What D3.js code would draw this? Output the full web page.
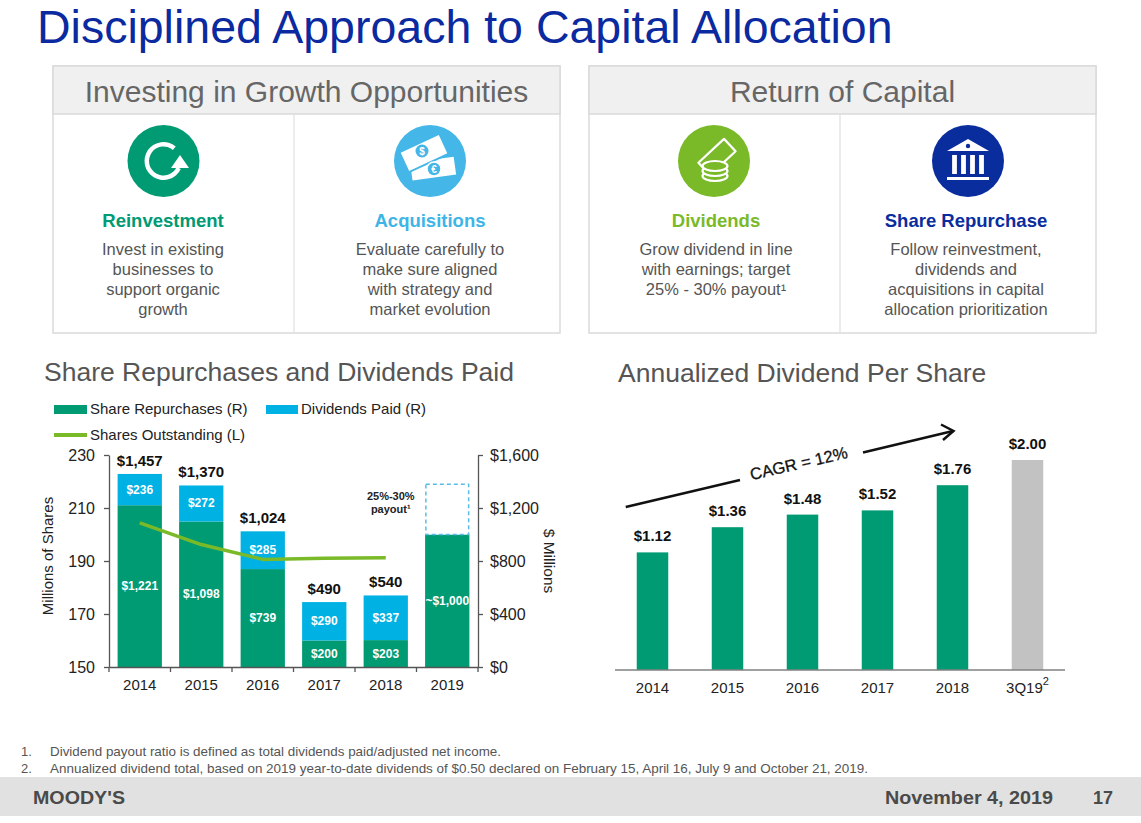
<!DOCTYPE html>
<html>
<head>
<meta charset="utf-8">
<script src="https://cdn.jsdelivr.net/npm/d3@7"></script>
<style>
  body { margin: 0; background: #fff; }
  svg { display: block; font-family: "Liberation Sans", Arial, sans-serif; }
</style>
</head>
<body>
<svg id="slide" width="1141" height="823"></svg>
<script>
// ---- data ----
const years = ['2014', '2015', '2016', '2017', '2018', '2019'];
const repurchases = [1221, 1098, 739, 200, 203, 1000];
const dividendsPaid = [236, 272, 285, 290, 337, 0];
const payoutTarget = [0, 0, 0, 0, 0, 380];          // dashed outline above 2019
const sharesOutstanding = [204.4, 196.2, 190.6, 191.0, 191.2];
const sharesTicks = [150, 170, 190, 210, 230];
const dollarTicks = [0, 400, 800, 1200, 1600];

const dpsPeriods = ['2014', '2015', '2016', '2017', '2018', '3Q19'];
const dps = [1.12, 1.36, 1.48, 1.52, 1.76, 2.00];

const pillarTitles = ['Reinvestment', 'Acquisitions', 'Dividends', 'Share Repurchase'];
const pillarText = [
  ['Invest in existing', 'businesses to', 'support organic', 'growth'],
  ['Evaluate carefully to', 'make sure aligned', 'with strategy and', 'market evolution'],
  ['Grow dividend in line', 'with earnings; target', '25% - 30% payout\u00B9'],
  ['Follow reinvestment,', 'dividends and', 'acquisitions in capital', 'allocation prioritization']
];
const footnotes = [
  'Dividend payout ratio is defined as total dividends paid/adjusted net income.',
  'Annualized dividend total, based on 2019 year-to-date dividends of $0.50 declared on February 15, April 16, July 9 and October 21, 2019.'
];

// ---- colours ----
const GREEN = '#009a73';
const SKY = '#00b2e3';
const ICON_SKY = '#45b6e8';
const LIME = '#7aba28';
const NAVY = '#0a2d9e';
const GREY_TXT = '#555';

const svg = d3.select('#slide');

// ---- slide title ----
svg.append('text')
  .attr('x', 37).attr('y', 43)
  .attr('font-size', 46.5).attr('fill', '#0b2aa0')
  .text('Disciplined Approach to Capital Allocation');

// ---- the two framed boxes ----
const boxes = [
  { x: 53, w: 507, divider: 294, title: 'Investing in Growth Opportunities' },
  { x: 589, w: 507, divider: 840, title: 'Return of Capital' }
];
boxes.forEach(b => {
  const g = svg.append('g');
  g.append('rect').attr('x', b.x).attr('y', 66).attr('width', b.w).attr('height', 267)
    .attr('fill', '#fff').attr('stroke', '#dadada').attr('stroke-width', 1.5);
  g.append('rect').attr('x', b.x).attr('y', 66).attr('width', b.w).attr('height', 48)
    .attr('fill', '#f0f0f0').attr('stroke', '#dadada').attr('stroke-width', 1.5);
  g.append('line').attr('x1', b.divider).attr('x2', b.divider).attr('y1', 114).attr('y2', 333)
    .attr('stroke', '#e0e0e0').attr('stroke-width', 1.2);
  g.append('text').attr('x', b.x + b.w / 2).attr('y', 102)
    .attr('text-anchor', 'middle').attr('font-size', 30).attr('fill', '#666')
    .text(b.title);
});

// ---- pillar icons + texts ----
const pillarX = [163, 430, 716, 966];
const iconX = [163.5, 430, 714, 968];
const pillarColors = [GREEN, ICON_SKY, LIME, NAVY];
const titleColors = [GREEN, '#3db5e6', LIME, NAVY];

pillarTitles.forEach((t, i) => {
  const g = svg.append('g');
  g.append('circle').attr('cx', iconX[i]).attr('cy', 161).attr('r', 36).attr('fill', pillarColors[i]);
  g.append('text').attr('x', pillarX[i]).attr('y', 227)
    .attr('text-anchor', 'middle').attr('font-size', 18.5).attr('font-weight', 'bold')
    .attr('fill', titleColors[i]).text(t);
  g.selectAll('text.desc').data(pillarText[i]).join('text')
    .attr('class', 'desc')
    .attr('x', pillarX[i]).attr('y', (d, j) => 255 + j * 20)
    .attr('text-anchor', 'middle').attr('font-size', 16.5).attr('fill', GREY_TXT)
    .text(d => d);
});

// reinvestment: circular arrow
(function () {
  const g = svg.append('g').attr('transform', `translate(${iconX[0]},161)`);
  const arc = d3.arc().innerRadius(14.5).outerRadius(19)
    .startAngle(2.0).endAngle(0.7 + 2 * Math.PI);
  g.append('path').attr('d', arc()).attr('fill', '#fff');
  g.append('path').attr('d', 'M16.5,-6 L7.5,7 L25.5,7 Z').attr('fill', '#fff');
})();

// acquisitions: two bank notes
(function () {
  const g = svg.append('g').attr('transform', `translate(${iconX[1]},161)`);
  g.append('rect').attr('x', -20).attr('y', -1).attr('width', 44).attr('height', 18)
    .attr('transform', 'rotate(-8)').attr('fill', '#fff');
  g.append('rect').attr('x', -28).attr('y', -19).attr('width', 44).attr('height', 22)
    .attr('transform', 'rotate(-25 -6 -8)').attr('fill', '#fff')
    .attr('stroke', ICON_SKY).attr('stroke-width', 2);
  g.append('circle').attr('cx', -8).attr('cy', -10).attr('r', 6.5).attr('fill', ICON_SKY);
  g.append('text').attr('x', -8).attr('y', -6.5).attr('text-anchor', 'middle')
    .attr('font-size', 10).attr('font-weight', 'bold').attr('fill', '#fff').text('$');
  g.append('circle').attr('cx', 4).attr('cy', 8).attr('r', 7).attr('fill', ICON_SKY)
    .attr('stroke', '#fff').attr('stroke-width', 1.5);
  g.append('text').attr('x', 4).attr('y', 11.5).attr('text-anchor', 'middle')
    .attr('font-size', 10).attr('font-weight', 'bold').attr('fill', '#fff').text('\u20AC');
})();

// dividends: bill and coin stack
(function () {
  const g = svg.append('g').attr('transform', `translate(${iconX[2]},161)`);
  g.append('rect').attr('x', -14.5).attr('y', -12.5).attr('width', 35).attr('height', 17)
    .attr('transform', 'rotate(-43 3 -4)')
    .attr('fill', LIME).attr('stroke', '#fff').attr('stroke-width', 2.2).attr('stroke-linejoin', 'round');
  [15, 10, 5].forEach(cy => {
    g.append('ellipse').attr('cx', 1).attr('cy', cy).attr('rx', 12.5).attr('ry', 5)
      .attr('fill', LIME).attr('stroke', '#fff').attr('stroke-width', 2.2);
  });
})();

// share repurchase: bank building
(function () {
  const g = svg.append('g').attr('transform', `translate(${iconX[3]},161)`);
  g.append('path').attr('d', 'M-21,-10 L0,-22 L21,-10 Z').attr('fill', '#fff');
  g.append('circle').attr('cx', 0).attr('cy', -15).attr('r', 2.2).attr('fill', NAVY);
  [-13.5, -4.5, 4.5, 13.5].forEach(cx => {
    g.append('rect').attr('x', cx - 2.4).attr('y', -6).attr('width', 4.8).attr('height', 19).attr('fill', '#fff');
  });
  g.append('rect').attr('x', -21).attr('y', 16).attr('width', 42).attr('height', 3).attr('fill', '#fff');
})();

// ================= LEFT CHART =================
const left = svg.append('g');
left.append('text').attr('x', 44).attr('y', 381)
  .attr('font-size', 26.5).attr('fill', GREY_TXT).text('Share Repurchases and Dividends Paid');

// legend
const legend = left.append('g').attr('font-size', 15).attr('fill', '#222');
legend.append('rect').attr('x', 54).attr('y', 405).attr('width', 33).attr('height', 9).attr('fill', GREEN);
legend.append('text').attr('x', 90).attr('y', 414).text('Share Repurchases (R)');
legend.append('rect').attr('x', 266).attr('y', 405).attr('width', 32).attr('height', 9).attr('fill', SKY);
legend.append('text').attr('x', 301).attr('y', 414).text('Dividends Paid (R)');
legend.append('line').attr('x1', 54).attr('x2', 87).attr('y1', 435).attr('y2', 435)
  .attr('stroke', LIME).attr('stroke-width', 4);
legend.append('text').attr('x', 90).attr('y', 440).text('Shares Outstanding (L)');

const x = d3.scaleBand().domain(years).range([109, 478]).paddingInner(0.28).paddingOuter(0.14);
const yShares = d3.scaleLinear().domain([150, 230]).range([667, 455]);
const yMoney = d3.scaleLinear().domain([0, 1600]).range([667, 455]);
const money = d3.format('$,');

// stacked bars
left.selectAll('rect.rep').data(years).join('rect')
  .attr('class', 'rep')
  .attr('x', d => x(d)).attr('width', x.bandwidth())
  .attr('y', (d, i) => yMoney(repurchases[i]))
  .attr('height', (d, i) => yMoney(0) - yMoney(repurchases[i]))
  .attr('fill', GREEN);

left.selectAll('rect.div').data(years.filter((d, i) => dividendsPaid[i] > 0)).join('rect')
  .attr('class', 'div')
  .attr('x', d => x(d)).attr('width', x.bandwidth())
  .attr('y', d => { const i = years.indexOf(d); return yMoney(repurchases[i] + dividendsPaid[i]); })
  .attr('height', d => { const i = years.indexOf(d); return yMoney(repurchases[i]) - yMoney(repurchases[i] + dividendsPaid[i]); })
  .attr('fill', SKY);

left.selectAll('rect.target').data(years.filter((d, i) => payoutTarget[i] > 0)).join('rect')
  .attr('class', 'target')
  .attr('x', d => x(d) + 0.75).attr('width', x.bandwidth() - 1.5)
  .attr('y', d => { const i = years.indexOf(d); return yMoney(repurchases[i] + payoutTarget[i]); })
  .attr('height', d => { const i = years.indexOf(d); return yMoney(repurchases[i]) - yMoney(repurchases[i] + payoutTarget[i]); })
  .attr('fill', '#fff').attr('stroke', '#5bbde6').attr('stroke-width', 1.5).attr('stroke-dasharray', '4,3');

left.append('text')
  .attr('x', x('2018') + x.bandwidth() / 2 + 5).attr('y', 500)
  .attr('text-anchor', 'middle').attr('font-size', 11).attr('font-weight', 'bold').attr('fill', '#222')
  .selectAll('tspan').data(['25%-30%', 'payout\u00B9']).join('tspan')
  .attr('x', x('2018') + x.bandwidth() / 2 + 5).attr('dy', (d, i) => i ? 13 : 0).text(d => d);

// value labels
const cx = d => x(d) + x.bandwidth() / 2;
left.selectAll('text.total').data(years.filter((d, i) => dividendsPaid[i] > 0)).join('text')
  .attr('class', 'total')
  .attr('x', cx)
  .attr('y', d => { const i = years.indexOf(d); return yMoney(repurchases[i] + dividendsPaid[i]) - 8; })
  .attr('text-anchor', 'middle').attr('font-size', 15).attr('font-weight', 'bold').attr('fill', '#111')
  .text(d => { const i = years.indexOf(d); return money(repurchases[i] + dividendsPaid[i]); });

left.selectAll('text.repv').data(years).join('text')
  .attr('class', 'repv')
  .attr('x', cx)
  .attr('y', (d, i) => (yMoney(0) + yMoney(repurchases[i])) / 2 + 4)
  .attr('text-anchor', 'middle').attr('font-size', 12).attr('font-weight', 'bold').attr('fill', '#fff')
  .text((d, i) => (payoutTarget[i] > 0 ? '~' : '') + money(repurchases[i]));

left.selectAll('text.divv').data(years.filter((d, i) => dividendsPaid[i] > 0)).join('text')
  .attr('class', 'divv')
  .attr('x', cx)
  .attr('y', d => { const i = years.indexOf(d); return (yMoney(repurchases[i]) + yMoney(repurchases[i] + dividendsPaid[i])) / 2 + 4; })
  .attr('text-anchor', 'middle').attr('font-size', 12).attr('font-weight', 'bold').attr('fill', '#fff')
  .text(d => money(dividendsPaid[years.indexOf(d)]));

// axes
function styleAxis(g, size) {
  g.attr('font-family', null).attr('font-size', size);
  g.select('.domain').attr('stroke', '#555').attr('stroke-width', 1.3);
  g.selectAll('.tick line').attr('stroke', '#555').attr('stroke-width', 1.3);
  g.selectAll('.tick text').attr('fill', '#222');
}
left.append('g').attr('transform', 'translate(109,0)')
  .call(d3.axisLeft(yShares).tickValues(sharesTicks).tickSize(5).tickSizeOuter(0).tickPadding(9))
  .call(g => styleAxis(g, 16));
left.append('g').attr('transform', 'translate(478,0)')
  .call(d3.axisRight(yMoney).tickValues(dollarTicks).tickFormat(money).tickSize(5).tickSizeOuter(0).tickPadding(7))
  .call(g => styleAxis(g, 16));
left.append('g').attr('transform', 'translate(0,667)')
  .call(d3.axisBottom(x).tickSize(0).tickSizeOuter(0).tickPadding(12))
  .call(g => styleAxis(g, 15));
// tick marks on the category boundaries
left.selectAll('line.bnd').data(d3.range(years.length + 1)).join('line')
  .attr('class', 'bnd')
  .attr('x1', i => x.range()[0] + i * x.step()).attr('x2', i => x.range()[0] + i * x.step())
  .attr('y1', 667).attr('y2', 672).attr('stroke', '#555').attr('stroke-width', 1.3);

left.append('text').attr('transform', 'translate(53,556) rotate(-90)')
  .attr('text-anchor', 'middle').attr('font-size', 15).attr('fill', '#222').text('Millions of Shares');
left.append('text').attr('transform', 'translate(544,561) rotate(90)')
  .attr('text-anchor', 'middle').attr('font-size', 15.5).attr('fill', '#222').text('$ Millions');

// shares outstanding line
left.append('path')
  .datum(sharesOutstanding)
  .attr('d', d3.line().x((d, i) => cx(years[i])).y(d => yShares(d)))
  .attr('fill', 'none').attr('stroke', LIME).attr('stroke-width', 3.5).attr('stroke-linejoin', 'round');

// ================= RIGHT CHART =================
const right = svg.append('g');
right.append('text').attr('x', 618).attr('y', 382)
  .attr('font-size', 26.5).attr('fill', GREY_TXT).text('Annualized Dividend Per Share');

const xd = d3.scaleBand().domain(dpsPeriods).range([615, 1065]).paddingInner(0.58).paddingOuter(0.29);
const yd = d3.scaleLinear().domain([0, 2]).range([670, 460]);

right.selectAll('rect.dps').data(dpsPeriods).join('rect')
  .attr('class', 'dps')
  .attr('x', d => xd(d)).attr('width', xd.bandwidth())
  .attr('y', (d, i) => yd(dps[i])).attr('height', (d, i) => yd(0) - yd(dps[i]))
  .attr('fill', d => d === '3Q19' ? '#c2c2c2' : GREEN);

right.selectAll('text.dpsv').data(dpsPeriods).join('text')
  .attr('class', 'dpsv')
  .attr('x', d => xd(d) + xd.bandwidth() / 2).attr('y', (d, i) => yd(dps[i]) - 11)
  .attr('text-anchor', 'middle').attr('font-size', 15).attr('font-weight', 'bold').attr('fill', '#111')
  .text((d, i) => d3.format('$.2f')(dps[i]));

right.append('line').attr('x1', 615).attr('x2', 1065).attr('y1', 670).attr('y2', 670)
  .attr('stroke', '#808080').attr('stroke-width', 1.5);

const cat = right.selectAll('text.cat').data(dpsPeriods).join('text')
  .attr('class', 'cat')
  .attr('x', d => xd(d) + xd.bandwidth() / 2).attr('y', 693)
  .attr('text-anchor', 'middle').attr('font-size', 15).attr('fill', '#222');
cat.append('tspan').text(d => d);
cat.filter(d => d === '3Q19').append('tspan').attr('dy', -8).attr('font-size', 11).text('2');

// CAGR arrow
const ax0 = xd('2014') - 11, ay0 = 507;
const arrow = right.append('g').attr('stroke', '#111').attr('stroke-width', 2.5).attr('fill', 'none');
arrow.append('line').attr('x1', ax0).attr('y1', ay0).attr('x2', 740).attr('y2', 480);
arrow.append('line').attr('x1', 863).attr('y1', 452.5).attr('x2', 953).attr('y2', 431);
arrow.append('path').attr('d', 'M941,424.5 L953.5,431 L943,440').attr('stroke-linejoin', 'miter');
right.append('text')
  .attr('transform', 'translate(800,469) rotate(-13.1)')
  .attr('text-anchor', 'middle').attr('font-size', 16.5).attr('fill', '#111')
  .attr('stroke', '#111').attr('stroke-width', 0.3)
  .text('CAGR = 12%');

// ================= FOOTER =================
const foot = svg.append('g').attr('font-family', '"Liberation Sans Narrow", "Arial Narrow", "Liberation Sans", sans-serif')
  .attr('fill', GREY_TXT);
footnotes.forEach((f, i) => {
  foot.append('text').attr('x', 21).attr('y', 756 + i * 17).attr('font-size', 13).text((i + 1) + '.');
  foot.append('text').attr('x', 50).attr('y', 756 + i * 17).attr('font-size', 13)
    .attr('textLength', i ? 818 : 451).attr('lengthAdjust', 'spacingAndGlyphs').text(f);
});
svg.append('rect').attr('x', 0).attr('y', 777).attr('width', 1141).attr('height', 39).attr('fill', '#e1e1e1');
const band = svg.append('g').attr('font-family', '"Liberation Sans Narrow", "Arial Narrow", "Liberation Sans", sans-serif')
  .attr('font-size', 19).attr('font-weight', 'bold').attr('fill', '#4a4a4a');
band.append('text').attr('x', 33).attr('y', 804).attr('textLength', 92).attr('lengthAdjust', 'spacingAndGlyphs').text("MOODY'S");
band.append('text').attr('x', 885).attr('y', 804).attr('textLength', 168).attr('lengthAdjust', 'spacingAndGlyphs').text('November 4, 2019');
band.append('text').attr('x', 1093).attr('y', 804).attr('textLength', 20).attr('lengthAdjust', 'spacingAndGlyphs').text('17');
</script>
</body>
</html>
